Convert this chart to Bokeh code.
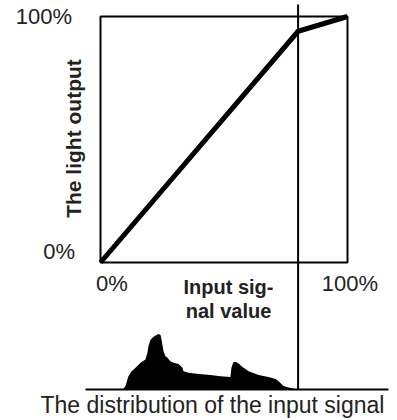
import math
from bokeh.plotting import figure
from bokeh.models import Range1d
from bokeh.core.properties import value
from bokeh.embed import file_html
from bokeh.resources import INLINE

# ---------------- data ----------------
x_ticks = [0.0, 1.0]
x_tick_labels = ["0%", "100%"]
y_ticks = [0.0, 1.0]
y_tick_labels = ["0%", "100%"]

curve_input = [0.0, 0.80, 1.0]
curve_output = [0.0, 0.94, 1.0]
threshold = 0.80

hist_x = [0.089, 0.101, 0.113, 0.126, 0.142, 0.162, 0.182, 0.190, 0.194, 0.202,
          0.215, 0.227, 0.235, 0.243, 0.247, 0.255, 0.263, 0.271, 0.283, 0.296,
          0.316, 0.332, 0.336, 0.356, 0.397, 0.445, 0.486, 0.526, 0.530, 0.538,
          0.547, 0.555, 0.575, 0.600, 0.640, 0.680, 0.709, 0.721, 0.741, 0.769,
          0.798]
hist_h = [0, 6, 24, 33, 39, 48, 54, 66, 78, 89,
          95, 98, 100, 98, 90, 69, 60, 57, 51, 48,
          46, 39, 33, 30, 28, 26, 24, 22.5, 39, 49.5,
          50, 48, 40.5, 33, 26, 22.5, 19, 15, 6.3, 2.7,
          0]

x_title_lines = ["Input sig-", "nal value"]
y_title = "The light output"
caption = "The distribution of the input signal"

# ---------------- layout (screen pixels of the picture) ----------------
W, H = 397, 420
OFF = 0
BOX_L, BOX_R, BOX_T, BOX_B = 100, 347, 16, 262
HIST_BASE = 389
HIST_PX_PER_UNIT = 0.555

sx = (BOX_R - BOX_L) / (x_ticks[-1] - x_ticks[0])
sy = (BOX_B - BOX_T) / (y_ticks[-1] - y_ticks[0])


def X(px):
    return x_ticks[0] + (px - BOX_L) / sx


def Y(py):
    return y_ticks[0] + (BOX_B - py) / sy


def HY(py):
    return (HIST_BASE - py) / HIST_PX_PER_UNIT


p = figure(width=W, height=H, output_backend="svg", toolbar_location=None,
           x_range=Range1d(X(OFF), X(OFF + W)),
           y_range=Range1d(Y(OFF + H), Y(OFF)),
           x_axis_location=None, y_axis_location=None,
           min_border=0, outline_line_color=None,
           background_fill_color="white", border_fill_color="white")
p.grid.visible = False
p.extra_y_ranges = {"hist": Range1d(HY(OFF + H), HY(OFF))}

FONT = value("Liberation Sans")
TXT = "#222222"

# histogram of the input signal
p.varea(x=hist_x, y1=0, y2=hist_h, y_range_name="hist",
        fill_color="black", fill_alpha=1.0)
p.segment(x0=[X(85)], x1=[X(388)], y0=[0], y1=[0], y_range_name="hist",
          line_color="black", line_width=2)

# frame box
p.quad(left=x_ticks[0], right=x_ticks[-1], bottom=y_ticks[0], top=y_ticks[-1],
       fill_color=None, line_color="black", line_width=2)

# threshold line
p.segment(x0=[threshold], x1=[threshold], y0=[0], y1=[HY(4)],
          y_range_name="hist", line_color="black", line_width=2)

# transfer curve
p.line(curve_input, curve_output, line_color="black", line_width=5,
       line_join="miter")

# tick labels
p.text(x=[X(74.5), X(71.5)], y=[Y(251), Y(16)], text=y_tick_labels,
       text_align="right", text_baseline="middle", text_font=FONT,
       text_font_size="22px", text_color=TXT)
p.text(x=[X(111.5), X(349.5)], y=[Y(282.5)] * 2, text=x_tick_labels,
       text_align="center", text_baseline="middle", text_font=FONT,
       text_font_size="22px", text_color=TXT)

# axis titles
p.text(x=[X(228)] * 2, y=[Y(286), Y(310)], text=x_title_lines,
       text_align="center", text_baseline="middle", text_font=FONT,
       text_font_size="20px", text_font_style="bold", text_color=TXT)
p.text(x=[X(73)], y=[Y(138)], text=[y_title], angle=math.pi / 2,
       text_align="center", text_baseline="middle", text_font=FONT,
       text_font_size="21px", text_font_style="bold", text_color=TXT)

# caption
p.text(x=[X(212)], y=[Y(404)], text=[caption],
       text_align="center", text_baseline="middle", text_font=FONT,
       text_font_size="23px", text_color=TXT)

open("out.html", "w").write(file_html(p, INLINE))
